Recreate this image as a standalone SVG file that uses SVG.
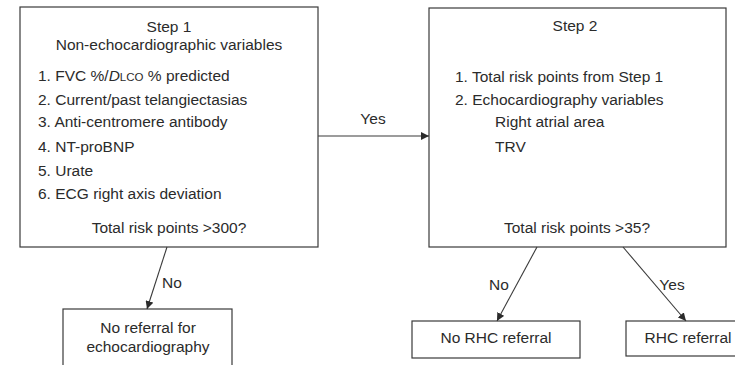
<svg xmlns="http://www.w3.org/2000/svg" width="735" height="365" viewBox="0 0 735 365">
  <style>
    .box { fill: #ffffff; stroke: #3a3a3a; stroke-width: 1.2; }
    .t { font-family: "Liberation Sans", Arial, sans-serif; font-size: 15.5px; fill: #2b2b2b; }
    .c { text-anchor: middle; }
    .edge { stroke: #3a3a3a; stroke-width: 1.1; fill: none; marker-end: url(#arrow); }
  </style>
  <defs>
    <marker id="arrow" viewBox="0 0 10 10" refX="10" refY="5" markerWidth="8" markerHeight="8" markerUnits="userSpaceOnUse" orient="auto">
      <path d="M0,0 L10,5 L0,10 z" fill="#2b2b2b"/>
    </marker>
  </defs>
  <rect width="735" height="365" fill="#ffffff"/>

  <g id="step1">
    <rect class="box" x="20" y="7" width="298" height="240"/>
    <text class="t c" x="169" y="32">Step 1</text>
    <text class="t c" x="169" y="50">Non-echocardiographic variables</text>
    <text class="t" x="38" y="81">1. FVC %/<tspan font-style="italic">D</tspan><tspan font-size="11.5px">LCO</tspan> % predicted</text>
    <text class="t" x="38" y="105">2. Current/past telangiectasias</text>
    <text class="t" x="38" y="127">3. Anti-centromere antibody</text>
    <text class="t" x="38" y="152">4. NT-proBNP</text>
    <text class="t" x="38" y="176">5. Urate</text>
    <text class="t" x="38" y="199">6. ECG right axis deviation</text>
    <text class="t c" x="169" y="233">Total risk points &gt;300?</text>
  </g>

  <g id="step2">
    <rect class="box" x="429" y="8" width="297" height="239"/>
    <text class="t c" x="575" y="31">Step 2</text>
    <text class="t" x="455" y="82">1. Total risk points from Step 1</text>
    <text class="t" x="455" y="105">2. Echocardiography variables</text>
    <text class="t" x="495" y="127">Right atrial area</text>
    <text class="t" x="495" y="152">TRV</text>
    <text class="t c" x="577" y="233">Total risk points &gt;35?</text>
  </g>

  <g id="no-echo">
    <rect class="box" x="63" y="309" width="169" height="70"/>
    <text class="t c" x="148" y="333">No referral for</text>
    <text class="t c" x="148" y="352">echocardiography</text>
  </g>

  <g id="no-rhc">
    <rect class="box" x="412" y="321" width="168" height="37"/>
    <text class="t c" x="496" y="343">No RHC referral</text>
  </g>

  <g id="rhc">
    <rect class="box" x="626" y="321" width="120" height="35"/>
    <text class="t c" x="688" y="343">RHC referral</text>
  </g>

  <g id="connectors">
    <line class="edge" x1="318" y1="136" x2="429" y2="136"/>
    <text class="t c" x="373" y="124">Yes</text>
    <line class="edge" x1="167" y1="247" x2="147" y2="309"/>
    <text class="t c" x="172" y="288">No</text>
    <line class="edge" x1="537" y1="247" x2="497" y2="321"/>
    <text class="t c" x="499" y="290">No</text>
    <line class="edge" x1="623" y1="247" x2="686" y2="321"/>
    <text class="t c" x="672" y="290">Yes</text>
  </g>
</svg>
